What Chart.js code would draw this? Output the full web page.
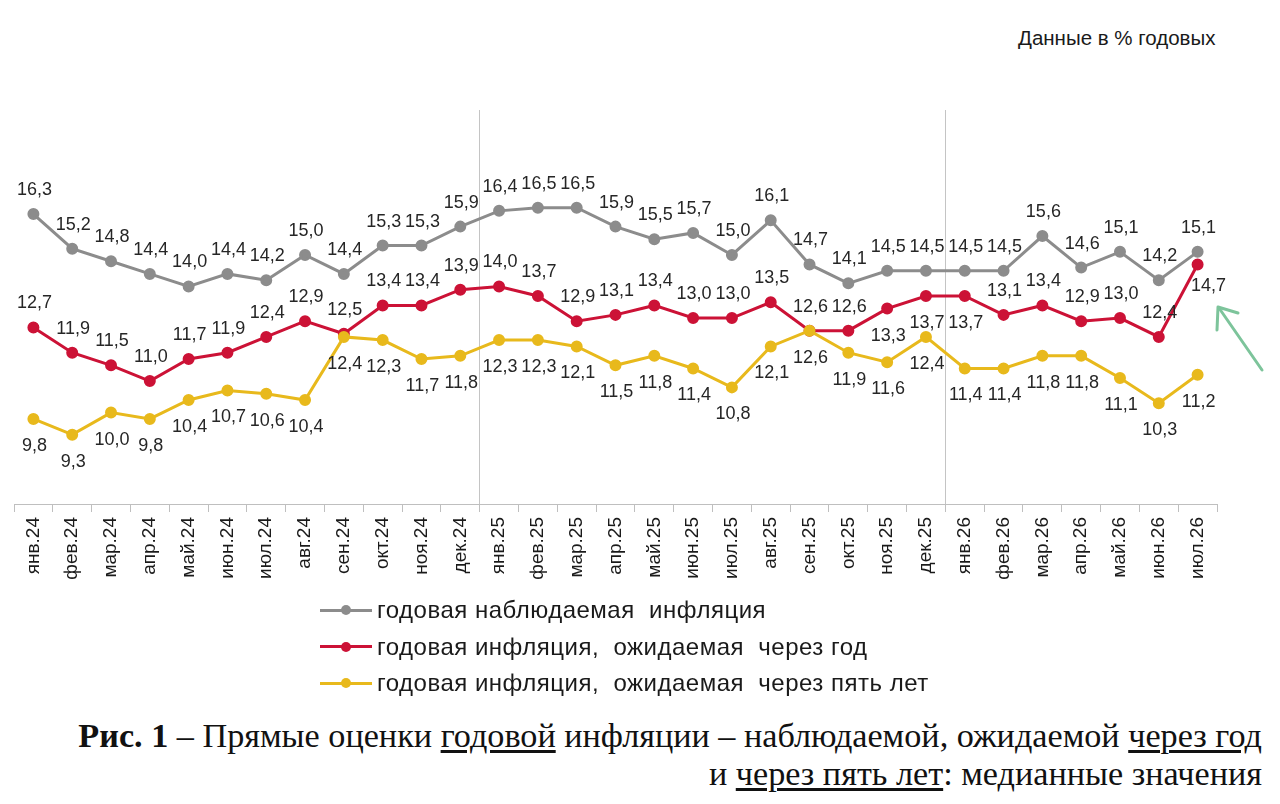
<!DOCTYPE html>
<html lang="ru">
<head>
<meta charset="utf-8">
<title>Инфляционные ожидания</title>
<script src="https://cdn.jsdelivr.net/npm/chart.js@4.4.1/dist/chart.umd.min.js"></script>
<style>
    body {
        margin: 0;
        width: 1280px;
        height: 804px;
        background: #fff;
        overflow: hidden;
        font-family: "Liberation Sans", Arial, sans-serif;
        position: relative;
    }
    .chart-box {
        position: absolute;
        left: 0;
        top: 0;
        width: 1280px;
        height: 600px;
    }
    .units {
        position: absolute;
        left: 1018px;
        top: 26px;
        font-size: 20.5px;
        color: #1a1a1a;
    }
    .legend {
        position: absolute;
        left: 320px;
        top: 592px;
    }
    .legend-row {
        display: flex;
        align-items: center;
        height: 36.5px;
        font-size: 24px;
        letter-spacing: 0.5px;
        color: #1a1a1a;
        white-space: pre;
    }
    .legend-mark {
        position: relative;
        width: 52px;
        height: 12px;
        margin-right: 5px;
    }
    .legend-mark .ln {
        position: absolute;
        left: 0;
        right: 0;
        top: 4.5px;
        height: 3px;
    }
    .legend-mark .dot {
        position: absolute;
        left: 21px;
        top: 1px;
        width: 10px;
        height: 10px;
        border-radius: 50%;
    }
    .caption {
        position: absolute;
        right: 18px;
        top: 717px;
        text-align: right;
        font-family: "Liberation Serif", "Times New Roman", serif;
        font-size: 34.2px;
        line-height: 38px;
        color: #111;
        white-space: nowrap;
    }
    .caption u {
        text-underline-offset: 3px;
    }
    .arrow {
        position: absolute;
        left: 1200px;
        top: 290px;
    }
</style>
</head>
<body>
<div class="units">Данные в % годовых</div>
<div class="chart-box"><canvas id="myLineChart"></canvas></div>
<div class="legend" id="legend"></div>
<div class="caption">
    <b>Рис. 1</b> – Прямые оценки <u>годовой</u> инфляции – наблюдаемой, ожидаемой <u>через год</u><br>
    и <u>через пять лет</u>: медианные значения
</div>
<svg class="arrow" width="80" height="100" viewBox="0 0 80 100">
    <line x1="62" y1="80" x2="19" y2="18" stroke="#7dc49b" stroke-width="3" stroke-linecap="round"/>
    <polyline points="17,40 18,17 38,23" fill="none" stroke="#7dc49b" stroke-width="3" stroke-linecap="round" stroke-linejoin="round"/>
</svg>

<script>
// Данные
const months = ['янв.24', 'фев.24', 'мар.24', 'апр.24', 'май.24', 'июн.24', 'июл.24', 'авг.24', 'сен.24', 'окт.24', 'ноя.24', 'дек.24',
    'янв.25', 'фев.25', 'мар.25', 'апр.25', 'май.25', 'июн.25', 'июл.25', 'авг.25', 'сен.25', 'окт.25', 'ноя.25', 'дек.25',
    'янв.26', 'фев.26', 'мар.26', 'апр.26', 'май.26', 'июн.26', 'июл.26'];

const observed = [16.3, 15.2, 14.8, 14.4, 14.0, 14.4, 14.2, 15.0, 14.4, 15.3, 15.3, 15.9,
    16.4, 16.5, 16.5, 15.9, 15.5, 15.7, 15.0, 16.1, 14.7, 14.1, 14.5, 14.5,
    14.5, 14.5, 15.6, 14.6, 15.1, 14.2, 15.1];

const expectedYear = [12.7, 11.9, 11.5, 11.0, 11.7, 11.9, 12.4, 12.9, 12.5, 13.4, 13.4, 13.9,
    14.0, 13.7, 12.9, 13.1, 13.4, 13.0, 13.0, 13.5, 12.6, 12.6, 13.3, 13.7,
    13.7, 13.1, 13.4, 12.9, 13.0, 12.4, 14.7];

const expectedFiveYears = [9.8, 9.3, 10.0, 9.8, 10.4, 10.7, 10.6, 10.4, 12.4, 12.3, 11.7, 11.8,
    12.3, 12.3, 12.1, 11.5, 11.8, 11.4, 10.8, 12.1, 12.6, 11.9, 11.6, 12.4,
    11.4, 11.4, 11.8, 11.8, 11.1, 10.3, 11.2];

const seriesNames = ['годовая наблюдаемая  инфляция', 'годовая инфляция,  ожидаемая  через год', 'годовая инфляция,  ожидаемая  через пять лет'];

// где стоит подпись: 'up' - над точкой, 'down' - под точкой
const observedLabelPos = months.map(() => 'up');
const expectedYearLabelPos = ['up', 'up', 'up', 'up', 'up', 'up', 'up', 'up', 'up', 'up', 'up', 'up',
    'up', 'up', 'up', 'up', 'up', 'up', 'up', 'up', 'up', 'up', 'down', 'down',
    'down', 'up', 'up', 'up', 'up', 'up', 'downRight'];
const expectedFiveLabelPos = months.map(() => 'down');

const colors = ['#8c8c8c', '#cc1236', '#e8b91c'];
const yearBreaks = [12, 24];

// Подписи значений
const valueLabels = {
    id: 'valueLabels',
    afterDatasetsDraw(chart) {
        const c = chart.ctx;
        c.save();
        c.font = '18px "Liberation Sans", Arial, sans-serif';
        c.fillStyle = '#262626';
        c.textAlign = 'center';
        c.textBaseline = 'middle';
        chart.data.datasets.forEach((ds, i) => {
            const meta = chart.getDatasetMeta(i);
            meta.data.forEach((pt, j) => {
                const pos = ds.labelPos[j];
                let dx = 1, dy = -24;
                if (pos === 'down') dy = 27;
                if (pos === 'downRight') { dx = 11; dy = 22; }
                c.fillText(ds.data[j].toFixed(1).replace('.', ','), pt.x + dx, pt.y + dy);
            });
        });
        c.restore();
    }
};

function makeDataset(name, data, color, labelPos, order) {
    return {
        label: name,
        data: data,
        borderColor: color,
        backgroundColor: color,
        pointBackgroundColor: color,
        pointBorderColor: color,
        pointRadius: 4.5,
        borderWidth: 3,
        tension: 0,
        labelPos: labelPos,
        order: order
    };
}

const ctxLine = document.getElementById('myLineChart').getContext('2d');
new Chart(ctxLine, {
    type: 'line',
    data: {
        labels: months,
        datasets: [
            makeDataset(seriesNames[0], observed, colors[0], observedLabelPos, 2),
            makeDataset(seriesNames[1], expectedYear, colors[1], expectedYearLabelPos, 1),
            makeDataset(seriesNames[2], expectedFiveYears, colors[2], expectedFiveLabelPos, 0)
        ]
    },
    options: {
        maintainAspectRatio: false,
        responsive: true,
        animation: false,
        layout: {
            padding: { left: 14, right: 63, top: 110, bottom: 0 }
        },
        plugins: {
            legend: { display: false },
            tooltip: { enabled: false }
        },
        scales: {
            x: {
                offset: true,
                afterFit: (axis) => { axis.height = 96; },
                border: { color: '#bfbfbf', width: 1 },
                grid: {
                    offset: true,
                    tickLength: 8,
                    lineWidth: 1,
                    color: (ctx) => yearBreaks.includes(ctx.index) ? '#c4c4c4' : 'rgba(0,0,0,0)',
                    tickColor: '#bfbfbf'
                },
                ticks: {
                    autoSkip: false,
                    minRotation: 90,
                    maxRotation: 90,
                    padding: 5,
                    color: '#1a1a1a',
                    font: { family: '"Liberation Sans", Arial, sans-serif', size: 19 }
                }
            },
            y: {
                display: false,
                min: 7.1,
                max: 19.6
            }
        }
    },
    plugins: [valueLabels]
});

// Легенда
const legend = document.getElementById('legend');
seriesNames.forEach((name, i) => {
    const row = document.createElement('div');
    row.className = 'legend-row';
    row.innerHTML = '<span class="legend-mark"><span class="ln" style="background:' + colors[i] + '"></span>' +
        '<span class="dot" style="background:' + colors[i] + '"></span></span>' + name;
    legend.appendChild(row);
});
</script>
</body>
</html>
